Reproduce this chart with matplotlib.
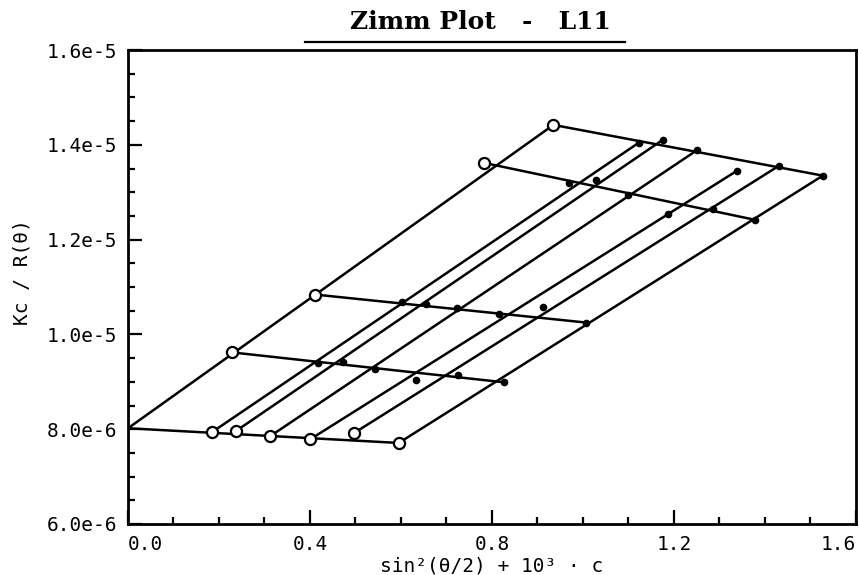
import matplotlib
matplotlib.use("Agg")
import matplotlib.pyplot as plt
from matplotlib.lines import Line2D
from matplotlib.ticker import MultipleLocator

# x = sin^2(theta/2) + k*c, y = Kc/R(theta) in units of 1e-6
intercept_x = 0.0
intercept_y = 8.02

# c -> 0 extrapolations (one per angle)
zero_c_x = [0.185, 0.237, 0.312, 0.401, 0.497, 0.595]
zero_c_y = [7.94, 7.96, 7.85, 7.79, 7.92, 7.71]

# theta -> 0 extrapolations (one per concentration)
zero_th_x = [0.229, 0.412, 0.782, 0.935]
zero_th_y = [9.62, 10.84, 13.62, 14.42]

# measured points: rows = concentrations, columns = angles
meas_x = [
    [0.418, 0.473, 0.542, 0.632, 0.725, 0.826],
    [0.603, 0.654, 0.723, 0.815, 0.913, 1.007],
    [0.969, 1.028, 1.100, 1.187, 1.285, 1.377],
    [1.122, 1.176, 1.251, 1.338, 1.431, 1.527],
]
meas_y = [
    [9.39, 9.41, 9.28, 9.03, 9.14, 8.99],
    [10.69, 10.65, 10.55, 10.44, 10.57, 10.25],
    [13.20, 13.26, 12.95, 12.53, 12.65, 12.42],
    [14.04, 14.11, 13.89, 13.45, 13.56, 13.35],
]

xticks = [0.0, 0.4, 0.8, 1.2, 1.6]
xtick_labels = ["0.0", "0.4", "0.8", "1.2", "1.6"]
yticks = [6.0, 8.0, 10.0, 12.0, 14.0, 16.0]
ytick_labels = ["6.0e-6", "8.0e-6", "1.0e-5", "1.2e-5", "1.4e-5", "1.6e-5"]

S = 1e-6
LW = 1.8
MONO = "DejaVu Sans Mono"

fig = plt.figure(figsize=(8.59, 5.75), dpi=100)
ax = fig.add_axes([0.149, 0.0887, 0.8475, 0.8243])

# c = 0 line and theta = 0 line
ax.plot([intercept_x, zero_c_x[-1]], [intercept_y * S, zero_c_y[-1] * S],
        color="black", lw=LW, zorder=2)
ax.plot([intercept_x, zero_th_x[-1]], [intercept_y * S, zero_th_y[-1] * S],
        color="black", lw=LW, zorder=2)

# constant-concentration lines
for j in range(len(zero_th_x)):
    ax.plot([zero_th_x[j], meas_x[j][-1]], [zero_th_y[j] * S, meas_y[j][-1] * S],
            color="black", lw=LW, zorder=2)

# constant-angle lines
for i in range(len(zero_c_x)):
    ax.plot([zero_c_x[i], meas_x[-1][i]], [zero_c_y[i] * S, meas_y[-1][i] * S],
            color="black", lw=LW, zorder=2)

# measured points
for j in range(len(meas_x)):
    ax.plot(meas_x[j], [v * S for v in meas_y[j]], "o", color="black",
            ms=4.5, zorder=3)

# extrapolated points (open circles)
ax.plot(zero_c_x, [v * S for v in zero_c_y], "o", mfc="white", mec="black",
        mew=1.6, ms=8, zorder=4)
ax.plot(zero_th_x, [v * S for v in zero_th_y], "o", mfc="white", mec="black",
        mew=1.6, ms=8, zorder=4)

ax.set_xlim(0, 1.6)
ax.set_ylim(6.0 * S, 16.0 * S)
ax.set_xticks(xticks)
ax.set_xticklabels(xtick_labels, family=MONO)
ax.set_yticks([v * S for v in yticks])
ax.set_yticklabels(ytick_labels, family=MONO)
ax.get_xticklabels()[0].set_ha("left")
ax.get_xticklabels()[-1].set_ha("right")
ax.xaxis.set_minor_locator(MultipleLocator(0.1))
ax.yaxis.set_minor_locator(MultipleLocator(0.5 * S))

ax.tick_params(which="both", direction="in", top=False, right=False,
               width=1.6, labelsize=14)
ax.tick_params(axis="y", which="major", length=10, pad=8)
ax.tick_params(axis="y", which="minor", length=5)
ax.tick_params(axis="x", which="major", length=10, pad=8)
ax.tick_params(axis="x", which="minor", length=5)
for side in ax.spines.values():
    side.set_linewidth(2)

fig.text(22 / 859, 1 - 272 / 575, "Kc / R(θ)", rotation=90,
         ha="center", va="center", fontsize=14, family=MONO)
fig.text(492 / 859, 1 - 566 / 575, "sin²(θ/2) + 10³ · c",
         ha="center", va="center", fontsize=14, family=MONO)

fig.text(480 / 859, 1 - 22 / 575, "Zimm Plot   -   L11", ha="center",
         va="center", fontsize=18, fontweight="bold", family="DejaVu Serif")
fig.add_artist(Line2D([305 / 859, 625 / 859], [1 - 42 / 575, 1 - 42 / 575],
                      color="black", lw=1.6))

fig.savefig("out.png", dpi=100)
